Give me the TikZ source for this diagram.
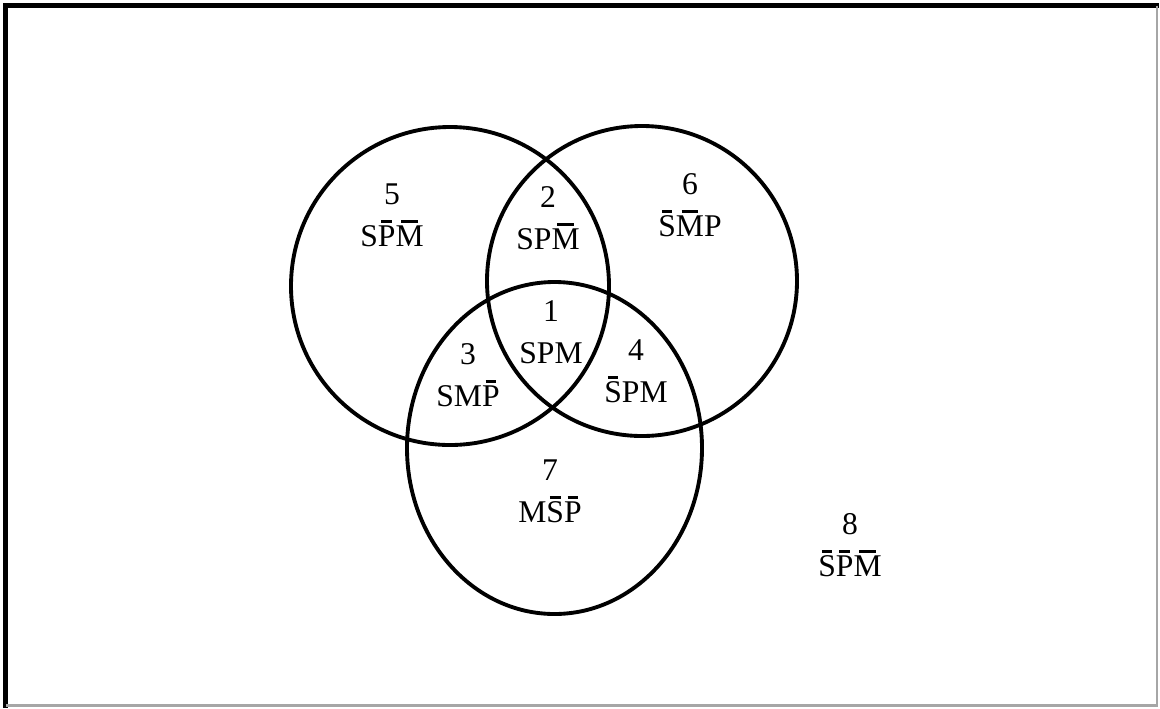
\documentclass[tikz,border=0pt]{standalone}
\usepackage{fontspec}
\setmainfont{Liberation Serif}
\newcommand{\ovl}[1]{\sbox0{#1}\rlap{\hspace{0.2\wd0}\raisebox{\dimexpr\ht0+1.6pt\relax}{\rule{0.6\wd0}{1.6pt}}}#1}
\tikzset{
  region/.style={align=center, inner sep=0pt, font=\fontsize{18}{24}\selectfont},
  ring/.style={draw, line width=2.2pt}
}
\begin{document}
\begin{tikzpicture}[x=0.02cm, y=-0.02cm]
\useasboundingbox (0,0) rectangle (1160,708);
% frame
\path[draw, line width=2.8pt, line cap=rect] (5.5,706) -- (5.5,5.5) -- (1157,5.5);
\path[draw, gray!70, line width=1.2pt] (1157,5.5) -- (1157,705.5) -- (5.5,705.5);
% circles
\coordinate (S) at (450,286);
\coordinate (P) at (642,281);
\coordinate (M) at (554.5,448);
\path[ring] (S) circle[radius=159];
\path[ring] (P) circle[radius=155];
\path[ring] (M) ellipse[x radius=147.5, y radius=166];
% regions
\node[region] (r5) at (392,215) {5\\S\ovl{P}\ovl{M}};
\node[region] (r2) at (548,218) {2\\SP\ovl{M}};
\node[region] (r6) at (690,205) {6\\\ovl{S}\ovl{M}P};
\node[region] (r1) at (551,332) {1\\SPM};
\node[region] (r3) at (468,375) {3\\SM\ovl{P}};
\node[region] (r4) at (636,371) {4\\\ovl{S}PM};
\node[region] (r7) at (550,491) {7\\M\ovl{S}\ovl{P}};
\node[region] (r8) at (850,545) {8\\\ovl{S}\ovl{P}\ovl{M}};
\end{tikzpicture}
\end{document}
